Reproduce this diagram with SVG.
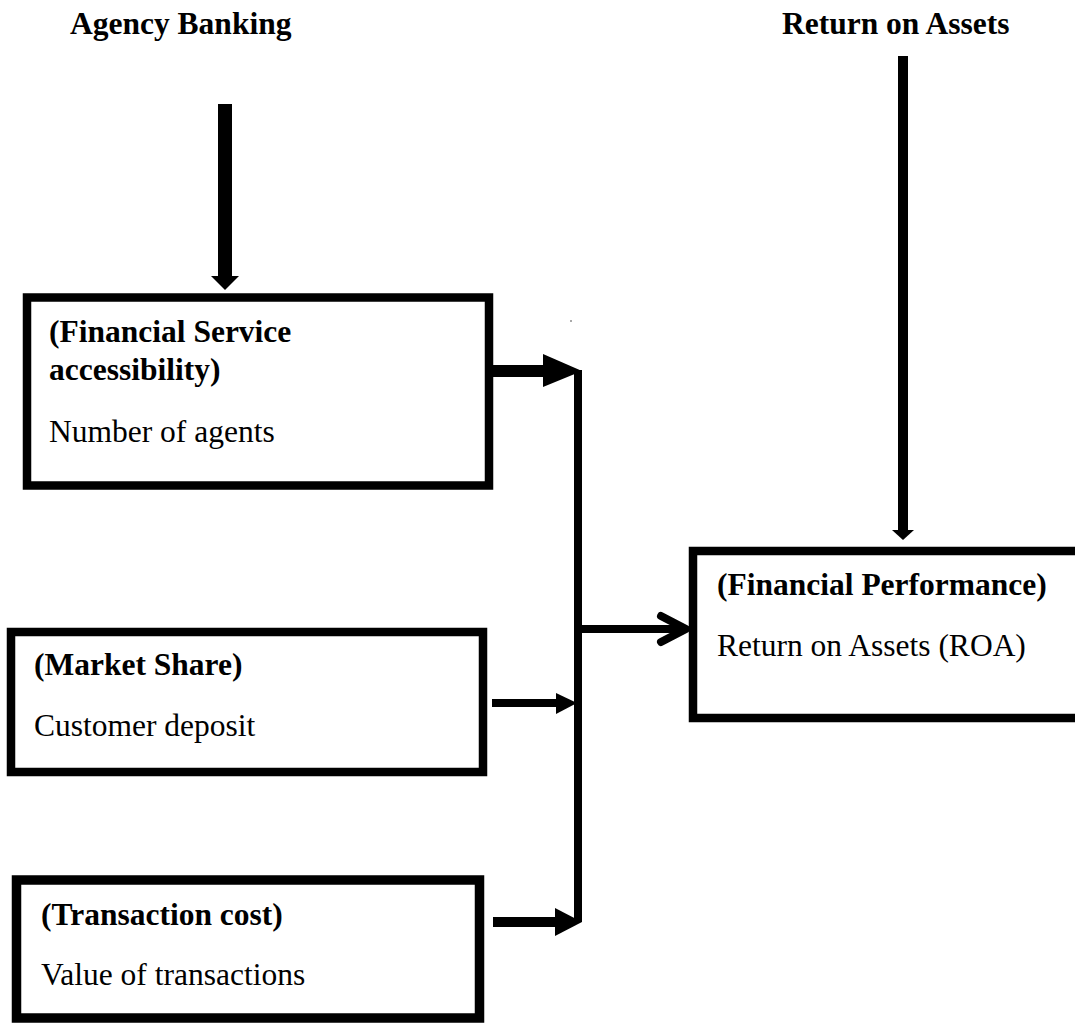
<svg xmlns="http://www.w3.org/2000/svg" width="1075" height="1023" viewBox="0 0 1075 1023">
<style>
  .t { font-family: "Liberation Serif", "Times New Roman", serif; font-size: 31.5px; fill: #000; }
  .b { font-weight: bold; }
  .box { fill: #fff; stroke: #000; }
  .ln { stroke: #000; fill: none; }
  .head { fill: #000; stroke: none; }
</style>
<rect x="0" y="0" width="1075" height="1023" fill="#fff"/>

<g id="title-agency">
  <text class="t b" x="70" y="34">Agency Banking</text>
</g>
<g id="title-roa">
  <text class="t b" x="782" y="34">Return on Assets</text>
</g>

<g id="connectors">
  <!-- Agency Banking down arrow -->
  <line class="ln" x1="225" y1="104" x2="225" y2="277" stroke-width="14"/>
  <polygon class="head" points="211,276 239,276 225,290"/>
  <!-- Return on Assets down arrow -->
  <line class="ln" x1="903" y1="56" x2="903" y2="531" stroke-width="10"/>
  <polygon class="head" points="892,530 914,530 903,540"/>
  <!-- vertical collector -->
  <line class="ln" x1="578" y1="370" x2="578" y2="922" stroke-width="8"/>
  <!-- box1 to collector -->
  <line class="ln" x1="492" y1="371" x2="544" y2="371" stroke-width="12"/>
  <polygon class="head" points="543,354 582,371 543,387"/>
  <!-- box2 to collector -->
  <line class="ln" x1="492" y1="703" x2="557" y2="703" stroke-width="8"/>
  <polygon class="head" points="556,693 577,703 556,714"/>
  <!-- box3 to collector -->
  <line class="ln" x1="493" y1="922" x2="556" y2="922" stroke-width="10"/>
  <polygon class="head" points="555,908 582,922 555,936"/>
  <!-- collector to ROA box -->
  <line class="ln" x1="582" y1="629" x2="686" y2="629" stroke-width="8"/>
  <polyline class="ln" points="661,616 686,629 661,642" stroke-width="8" stroke-linecap="round" stroke-linejoin="round"/>
  <rect x="570.5" y="320" width="1" height="2" fill="#555"/>
</g>

<g id="node-access">
  <rect class="box" x="27" y="297.5" width="462" height="188" stroke-width="8.5"/>
  <text class="t b" x="49" y="342">(Financial Service</text>
  <text class="t b" x="49" y="380">accessibility)</text>
  <text class="t" x="49" y="442">Number of agents</text>
</g>

<g id="node-market">
  <rect class="box" x="11" y="632" width="472" height="140" stroke-width="8.5"/>
  <text class="t b" x="34" y="675">(Market Share)</text>
  <text class="t" x="34" y="736">Customer deposit</text>
</g>

<g id="node-transaction">
  <rect class="box" x="16.5" y="880" width="463" height="138" stroke-width="9.5"/>
  <text class="t b" x="41" y="925">(Transaction cost)</text>
  <text class="t" x="41" y="985">Value of transactions</text>
</g>

<g id="node-performance">
  <rect class="box" x="693" y="551" width="400" height="167" stroke-width="8.5"/>
  <text class="t b" x="717" y="595">(Financial Performance)</text>
  <text class="t" x="717" y="656">Return on Assets (ROA)</text>
</g>
</svg>
